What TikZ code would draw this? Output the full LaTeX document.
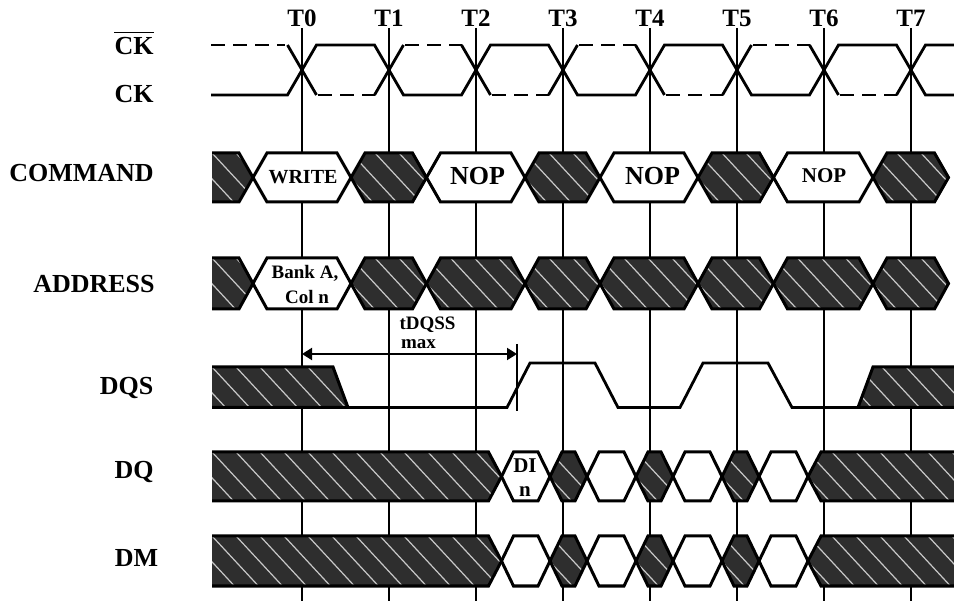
\documentclass[tikz,border=0pt]{standalone}
\usepackage{fontspec}
\setmainfont{Liberation Serif}
\usetikzlibrary{arrows.meta}
\definecolor{hatchdark}{HTML}{2E2E2E}
\definecolor{stripecol}{HTML}{C8C8C8}
\newcommand{\hexbox}[6]{%
  \path[#6] (#1,{(#3+#4)/2}) -- (#1+#5,#3) -- (#2-#5,#3) -- (#2,{(#3+#4)/2}) -- (#2-#5,#4) -- (#1+#5,#4) -- cycle;}
\begin{document}
\begin{tikzpicture}[x=1pt,y=-1pt,
  sig/.style={line width=2.8pt, line join=miter},
  dsig/.style={sig, dash pattern=on 14pt off 8pt},
  tline/.style={line width=1.5pt},
  obox/.style={line width=3pt, line join=miter},
  wbox/.style={fill=white, draw=black, line width=3pt},
  hfill/.style={fill=hatchdark, path picture={%
     \foreach \k in {-4,...,14}{%
       \draw[stripecol, line width=1.2pt] ([xshift=\k*24pt]path picture bounding box.north west) -- ++(52,56);}}},
  hbox/.style={hfill, draw=black, line width=3pt},
  sname/.style={font=\bfseries\fontsize{26}{28}\selectfont, anchor=base, inner sep=0pt},
  tlab/.style={font=\bfseries\fontsize{25}{27}\selectfont, anchor=base, inner sep=0pt},
  btxt/.style={font=\bfseries\fontsize{20}{22}\selectfont, anchor=base, inner sep=0pt},
  bbig/.style={font=\bfseries\fontsize{26}{28}\selectfont, anchor=base, inner sep=0pt},
]
\useasboundingbox (0,0) rectangle (954,601);

% clock edge lines and labels
\foreach \i/\x in {0/302,1/389,2/476,3/563,4/650,5/737,6/824,7/911}{
  \draw[tline] (\x,28) -- (\x,601);
  \node[tlab] (t\i) at (\x,27) {T\i};
}

% signal names
\node[sname] (ckb) at (134,55) {CK};
\draw[line width=1.8pt] ([yshift=5pt]ckb.north west) -- ([yshift=5pt]ckb.north east);
\node[sname] (ck) at (134,103) {CK};
\node[sname] (cmd) at (81.5,182) {COMMAND};
\node[sname] (addr) at (94,293) {ADDRESS};
\node[sname] (dqs) at (126.5,395) {DQS};
\node[sname] (dq) at (134,479) {DQ};
\node[sname] (dm) at (136.5,566) {DM};

% CK (solid)
\draw[sig] (211,95) -- (287.5,95) -- (316.5,45) -- (374.5,45) -- (403.5,95) -- (461.5,95) -- (490.5,45) -- (548.5,45) -- (577.5,95) -- (635.5,95) -- (664.5,45) -- (722.5,45) -- (751.5,95) -- (809.5,95) -- (838.5,45) -- (896.5,45) -- (925.5,95) -- (954,95);
% CK# (dashed flats, solid edges)
\draw[dsig] (211,45) -- (285,45);
\draw[sig] (287.5,45) -- (316.5,95);
\draw[dsig] (318,95) -- (374.5,95);
\draw[sig] (374.5,95) -- (403.5,45);
\draw[dsig] (405,45) -- (461.5,45);
\draw[sig] (461.5,45) -- (490.5,95);
\draw[dsig] (492,95) -- (548.5,95);
\draw[sig] (548.5,95) -- (577.5,45);
\draw[dsig] (579,45) -- (635.5,45);
\draw[sig] (635.5,45) -- (664.5,95);
\draw[dsig] (666,95) -- (722.5,95);
\draw[sig] (722.5,95) -- (751.5,45);
\draw[dsig] (753,45) -- (809.5,45);
\draw[sig] (809.5,45) -- (838.5,95);
\draw[dsig] (840,95) -- (896.5,95);
\draw[sig] (896.5,95) -- (925.5,45) -- (954,45);

% COMMAND row
\path[hfill] (212,153) -- (239,153) -- (253,177.5) -- (239,202) -- (212,202) -- cycle;
\draw[obox] (212,153) -- (239,153) -- (253,177.5) -- (239,202) -- (212,202);
\hexbox{253}{351}{153}{202}{14}{wbox}
\hexbox{351}{426.5}{153}{202}{14}{hbox}
\hexbox{426.5}{525}{153}{202}{14}{wbox}
\hexbox{525}{600}{153}{202}{14}{hbox}
\hexbox{600}{698}{153}{202}{14}{wbox}
\hexbox{698}{773.5}{153}{202}{14}{hbox}
\hexbox{773.5}{873}{153}{202}{14}{wbox}
\hexbox{873}{948.5}{153}{202}{14}{hbox}
\node[btxt] (write) at (303,184) {WRITE};
\node[bbig] (nop1) at (477.5,185) {NOP};
\node[bbig] (nop2) at (652.5,185) {NOP};
\node[btxt, font=\bfseries\fontsize{21}{23}\selectfont] (nop3) at (824,183) {NOP};

% ADDRESS row
\path[hfill] (212,258) -- (239,258) -- (253,283.5) -- (239,309) -- (212,309) -- cycle;
\draw[obox] (212,258) -- (239,258) -- (253,283.5) -- (239,309) -- (212,309);
\hexbox{253}{351}{258}{309}{14}{wbox}
\hexbox{351}{426.5}{258}{309}{14}{hbox}
\hexbox{426.5}{525}{258}{309}{14}{hbox}
\hexbox{525}{600}{258}{309}{14}{hbox}
\hexbox{600}{698}{258}{309}{14}{hbox}
\hexbox{698}{773.5}{258}{309}{14}{hbox}
\hexbox{773.5}{873}{258}{309}{14}{hbox}
\hexbox{873}{948.5}{258}{309}{14}{hbox}
\node[btxt, font=\bfseries\fontsize{19}{21}\selectfont] (bank) at (305,279) {Bank A,};
\node[btxt, font=\bfseries\fontsize{19}{21}\selectfont] (col) at (307,304) {Col n};

% DQS row
\path[hfill] (212,367) -- (333,367) -- (348,407.5) -- (212,407.5) -- cycle;
\draw[obox] (212,367) -- (333,367) -- (348,407.5) -- (212,407.5);
\draw[sig] (348,407.5) -- (507,407.5) -- (530,363) -- (595,363) -- (618,407.5) -- (680,407.5) -- (703,363) -- (768,363) -- (792,407.5) -- (858,407.5);
\path[hfill] (858,407.5) -- (873,367) -- (954,367) -- (954,407.5) -- cycle;
\draw[obox] (954,407.5) -- (858,407.5) -- (873,367) -- (954,367);

% tDQSS
\coordinate (a0) at (302,354);
\coordinate (a1) at (517,354);
\coordinate (b0) at (517,344);
\coordinate (b1) at (517,411);
\draw[line width=2pt, {Triangle[length=10pt,width=12pt]}-{Triangle[length=10pt,width=12pt]}] (a0) -- (a1);
\draw[line width=2pt] (b0) -- (b1);
\node[btxt, font=\bfseries\fontsize{19}{21}\selectfont, text depth=0pt] (tdqss) at (427.5,330) {tDQSS};
\node[btxt, font=\bfseries\fontsize{19}{21}\selectfont, text height=9pt] (max) at (418.5,349) {max};

% DQ row
\path[hfill] (212,452) -- (488.5,452) -- (501.5,476.5) -- (488.5,501) -- (212,501) -- cycle;
\draw[obox] (212,452) -- (488.5,452) -- (501.5,476.5) -- (488.5,501) -- (212,501);
\hexbox{501.5}{550}{452}{501}{12}{wbox}
\hexbox{550}{587}{452}{501}{12}{hbox}
\hexbox{587}{636}{452}{501}{12}{wbox}
\hexbox{636}{673}{452}{501}{12}{hbox}
\hexbox{673}{722}{452}{501}{12}{wbox}
\hexbox{722}{759}{452}{501}{12}{hbox}
\hexbox{759}{808}{452}{501}{12}{wbox}
\path[hfill] (954,452) -- (821,452) -- (808,476.5) -- (821,501) -- (954,501) -- cycle;
\draw[obox] (954,452) -- (821,452) -- (808,476.5) -- (821,501) -- (954,501);
\node[btxt, font=\bfseries\fontsize{21}{23}\selectfont] (di) at (525,473) {DI};
\node[btxt, font=\bfseries\fontsize{21}{23}\selectfont] (din) at (525,497) {n};

% DM row
\path[hfill] (212,536) -- (488.5,536) -- (501.5,561) -- (488.5,586) -- (212,586) -- cycle;
\draw[obox] (212,536) -- (488.5,536) -- (501.5,561) -- (488.5,586) -- (212,586);
\hexbox{501.5}{550}{536}{586}{12}{wbox}
\hexbox{550}{587}{536}{586}{12}{hbox}
\hexbox{587}{636}{536}{586}{12}{wbox}
\hexbox{636}{673}{536}{586}{12}{hbox}
\hexbox{673}{722}{536}{586}{12}{wbox}
\hexbox{722}{759}{536}{586}{12}{hbox}
\hexbox{759}{808}{536}{586}{12}{wbox}
\path[hfill] (954,536) -- (821,536) -- (808,561) -- (821,586) -- (954,586) -- cycle;
\draw[obox] (954,536) -- (821,536) -- (808,561) -- (821,586) -- (954,586);
\end{tikzpicture}
\end{document}
